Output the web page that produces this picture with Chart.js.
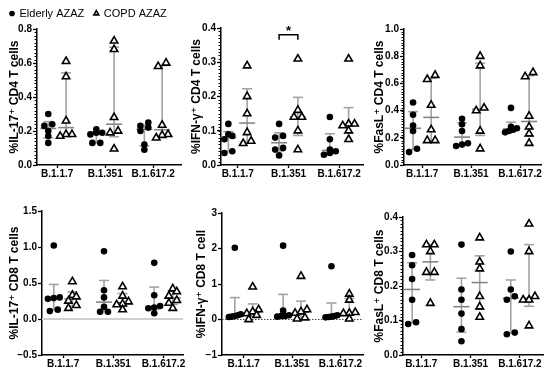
<!DOCTYPE html>
<html>
<head>
<meta charset="utf-8">
<script src="https://cdn.jsdelivr.net/npm/chart.js@4.4.1/dist/chart.umd.min.js"></script>
<style>
  html, body { margin: 0; padding: 0; background: #fff; }
  #fig { position: relative; width: 550px; height: 375px; overflow: hidden; }
  #fig canvas { position: absolute; }
</style>
</head>
<body>
<div id="fig">
  <canvas id="c0"></canvas><canvas id="c1"></canvas><canvas id="c2"></canvas>
  <canvas id="c3"></canvas><canvas id="c4"></canvas><canvas id="c5"></canvas>
</div>
<script>
// categories / groups
const variants = ['B.1.1.7', 'B.1.351', 'B.1.617.2'];
const groups = ['Elderly AZAZ', 'COPD AZAZ'];

// values, one row per variant (n = 6 donors)
const il17Cd4Elderly = [[0.30, 0.24, 0.23, 0.20, 0.17, 0.13], [0.21, 0.19, 0.19, 0.18, 0.13, 0.13], [0.25, 0.23, 0.22, 0.20, 0.12, 0.09]];
const il17Cd4Copd    = [[0.61, 0.52, 0.26, 0.18, 0.18, 0.17], [0.73, 0.68, 0.28, 0.20, 0.19, 0.095], [0.60, 0.58, 0.235, 0.18, 0.175, 0.16]];
const ifnCd4Elderly  = [[0.12, 0.09, 0.085, 0.075, 0.04, 0.035], [0.12, 0.085, 0.08, 0.05, 0.045, 0.028], [0.14, 0.075, 0.045, 0.04, 0.035, 0.03]];
const ifnCd4Copd     = [[0.29, 0.20, 0.15, 0.095, 0.07, 0.063], [0.31, 0.16, 0.14, 0.14, 0.10, 0.045], [0.31, 0.12, 0.12, 0.115, 0.10, 0.075]];
const faslCd4Elderly = [[0.46, 0.37, 0.29, 0.25, 0.12, 0.095], [0.34, 0.30, 0.25, 0.16, 0.15, 0.14], [0.42, 0.28, 0.27, 0.26, 0.25, 0.24]];
const faslCd4Copd    = [[0.66, 0.63, 0.44, 0.26, 0.18, 0.18], [0.80, 0.73, 0.42, 0.40, 0.25, 0.12], [0.68, 0.65, 0.36, 0.28, 0.23, 0.16]];
const il17Cd8Elderly = [[1.02, 0.30, 0.29, 0.28, 0.13, 0.11], [0.94, 0.40, 0.30, 0.17, 0.10, 0.10], [0.78, 0.33, 0.18, 0.16, 0.15, 0.08]];
const il17Cd8Copd    = [[0.52, 0.33, 0.31, 0.25, 0.19, 0.15], [0.45, 0.32, 0.24, 0.21, 0.20, 0.13], [0.42, 0.38, 0.32, 0.26, 0.22, 0.15]];
const ifnCd8Elderly  = [[2.02, 0.15, 0.12, 0.10, 0.08, 0.07], [2.08, 0.25, 0.12, 0.10, 0.10, 0.08], [1.50, 0.12, 0.10, 0.08, 0.07, 0.06]];
const ifnCd8Copd     = [[0.92, 0.28, 0.22, 0.17, 0.12, 0.0], [1.22, 0.28, 0.22, 0.18, 0.05, 0.02], [0.72, 0.55, 0.20, 0.18, 0.17, 0.02]];
const faslCd8Elderly = [[0.29, 0.26, 0.22, 0.16, 0.095, 0.09], [0.32, 0.19, 0.16, 0.12, 0.075, 0.04], [0.30, 0.19, 0.17, 0.16, 0.065, 0.06]];
const faslCd8Copd    = [[0.32, 0.32, 0.30, 0.24, 0.24, 0.15], [0.34, 0.27, 0.25, 0.17, 0.14, 0.11], [0.38, 0.30, 0.17, 0.16, 0.16, 0.085]];

// y tick labels
const il17Cd4Ticks = [0, 0.2, 0.4, 0.6, 0.8];
const ifnCd4Ticks  = [0, 0.1, 0.2, 0.3, 0.4];
const faslCd4Ticks = [0, 0.2, 0.4, 0.6, 0.8, 1.0];
const il17Cd8Ticks = [-0.5, 0, 0.5, 1.0, 1.5];
const ifnCd8Ticks  = [-1, 0, 1, 2, 3];
const faslCd8Ticks = [0, 0.1, 0.2, 0.3, 0.4];

// significance marks: panel index, variant (1-based), bracket height
const sigMarks = [{ panel: 1, variant: 2, level: 0.38, text: '*' }];

const panels = [
  { title: '%IL-17⁺ CD4 T cells', elderly: il17Cd4Elderly, copd: il17Cd4Copd, ticks: il17Cd4Ticks, digits: 1, minor: true },
  { title: '%IFN-γ⁺ CD4 T cells', elderly: ifnCd4Elderly, copd: ifnCd4Copd, ticks: ifnCd4Ticks, digits: 1, minor: true },
  { title: '%FasL⁺ CD4 T cells', elderly: faslCd4Elderly, copd: faslCd4Copd, ticks: faslCd4Ticks, digits: 1, minor: true },
  { title: '%IL-17⁺ CD8 T cells', elderly: il17Cd8Elderly, copd: il17Cd8Copd, ticks: il17Cd8Ticks, digits: 1, zero: 'solid' },
  { title: '%IFN-γ⁺ CD8 T cell', elderly: ifnCd8Elderly, copd: ifnCd8Copd, ticks: ifnCd8Ticks, digits: 0, zero: 'dotted' },
  { title: '%FasL⁺ CD8 T cells', elderly: faslCd8Elderly, copd: faslCd8Copd, ticks: faslCd8Ticks, digits: 1, minor: true },
];

// page geometry of each panel: canvas left, plot area [left, right, top, bottom], y title centre, x range
const layouts = [
  { left: 0,   area: [37, 183, 29, 165],  titleX: 15,  x: [0.58, 3.58] },
  { left: 186, area: [221, 365, 28, 165], titleX: 197, x: [0.67, 3.47] },
  { left: 368, area: [404, 543, 29, 165], titleX: 380, x: [0.63, 3.43] },
  { left: 0,   area: [42, 185, 211, 355], titleX: 15,  x: [0.58, 3.39] },
  { left: 190, area: [222, 365, 213, 355], titleX: 202, x: [0.55, 3.47] },
  { left: 368, area: [403, 545, 217, 355], titleX: 380, x: [0.63, 3.47] },
];

const FONT = "'Liberation Sans', Arial, 'DejaVu Sans', sans-serif";
const GROUP_SHIFT = [-0.185, 0.185];
const X_AXIS_H = 16;
const PAD_R = 4;
Chart.defaults.font.family = FONT;
Chart.defaults.color = '#000';

// Prism style percentile (position p*(n+1))
function quantile(sorted, p) {
  const n = sorted.length, pos = p * (n + 1);
  if (pos <= 1) return sorted[0];
  if (pos >= n) return sorted[n - 1];
  const lo = Math.floor(pos);
  return sorted[lo - 1] + (pos - lo) * (sorted[lo] - sorted[lo - 1]);
}

// spread points that share a value band side by side, like a dot plot
function spread(values, pxY, pxX) {
  const order = values.map((v, i) => i).sort((a, b) => values[a] - values[b]);
  const offs = new Array(values.length).fill(0);
  let row = [];
  const flush = () => {
    const k = row.length;
    const gap = k > 1 ? Math.min(8, 12 / (k - 1)) : 0;
    row.forEach((idx, j) => { offs[idx] = (j - (k - 1) / 2) * gap / pxX; });
    row = [];
  };
  order.forEach(i => {
    if (row.length && (values[i] - values[row[0]]) * pxY > 5) flush();
    row.push(i);
  });
  flush();
  return offs;
}

function fmt(v, digits) {
  return v.toFixed(digits).replace('-', '−');
}

function statsPlugin(p) {
  return {
    id: 'groupStats',
    beforeDatasetsDraw(chart) {
      const { ctx, chartArea, scales: { x, y } } = chart;
      ctx.save();
      if (p.zero) {
        const y0 = y.getPixelForValue(0);
        ctx.beginPath();
        if (p.zero === 'dotted') { ctx.setLineDash([1.5, 1.5]); ctx.strokeStyle = '#444'; ctx.lineWidth = 1.2; }
        else { ctx.strokeStyle = '#cfcfcf'; ctx.lineWidth = 2; }
        ctx.moveTo(chartArea.left, y0); ctx.lineTo(chartArea.right, y0); ctx.stroke();
        ctx.setLineDash([]);
      }
      const seg = (x1, y1, x2, y2) => { ctx.beginPath(); ctx.moveTo(x1, y1); ctx.lineTo(x2, y2); ctx.stroke(); };
      [p.elderly, p.copd].forEach((rows, g) => rows.forEach((vals, i) => {
        const s = [...vals].sort((a, b) => a - b);
        const cx = x.getPixelForValue(i + 1 + GROUP_SHIFT[g]);
        const [q1, med, q3] = [0.25, 0.5, 0.75].map(q => y.getPixelForValue(quantile(s, q)));
        ctx.strokeStyle = '#a3a3a3'; ctx.lineWidth = 1.6;
        seg(cx, q1, cx, q3); seg(cx - 5, q1, cx + 5, q1); seg(cx - 5, q3, cx + 5, q3);
        ctx.strokeStyle = '#858585';
        seg(cx - 8, med, cx + 8, med);
      }));
      ctx.restore();
    },
    afterDraw(chart) {
      const { ctx, chartArea, scales: { x, y } } = chart;
      ctx.save();
      if (p.minor) {
        const t = p.ticks, step = (t[1] - t[0]) / 10;
        ctx.strokeStyle = '#000'; ctx.lineWidth = 1;
        for (let v = t[0]; v <= t[t.length - 1] + 1e-9; v += step) {
          const py = Math.round(y.getPixelForValue(v)) + 0.5;
          ctx.beginPath(); ctx.moveTo(chartArea.left - 2.5, py); ctx.lineTo(chartArea.left, py); ctx.stroke();
        }
      }
      sigMarks.filter(m => m.panel === p.index).forEach(m => {
        const x1 = x.getPixelForValue(m.variant + GROUP_SHIFT[0]);
        const x2 = x.getPixelForValue(m.variant + GROUP_SHIFT[1]);
        const yb = y.getPixelForValue(m.level);
        ctx.strokeStyle = '#000'; ctx.lineWidth = 1.5;
        ctx.beginPath(); ctx.moveTo(x1, yb + 5); ctx.lineTo(x1, yb); ctx.lineTo(x2, yb); ctx.lineTo(x2, yb + 5); ctx.stroke();
        ctx.fillStyle = '#000'; ctx.font = 'bold 13px ' + FONT;
        ctx.textAlign = 'center'; ctx.textBaseline = 'middle';
        ctx.fillText(m.text, (x1 + x2) / 2, yb - 3);
      });
      ctx.restore();
    }
  };
}

panels.forEach((p, k) => {
  p.index = k;
  const L = layouts[k];
  const [aL, aR, aT, aB] = L.area;
  const t = p.ticks, yMin = t[0], yMax = t[t.length - 1];
  const top = k === 0 ? -2 : aT - 7;
  const canvas = document.getElementById('c' + k);
  canvas.width = aR + PAD_R - L.left;
  canvas.height = aB + X_AXIS_H - top;
  canvas.style.left = L.left + 'px';
  canvas.style.top = top + 'px';

  const pxY = (aB - aT) / (yMax - yMin);
  const pxX = (aR - aL) / (L.x[1] - L.x[0]);
  const points = rows => rows.flatMap((vals, i) => {
    const offs = spread(vals, pxY, pxX);
    return vals.map((v, j) => ({ x: i + 1 + offs[j], y: v }));
  });
  const elderlyPts = points(p.elderly).map(d => ({ x: d.x + GROUP_SHIFT[0], y: d.y }));
  const copdPts = points(p.copd).map(d => ({ x: d.x + GROUP_SHIFT[1], y: d.y }));

  new Chart(canvas, {
    type: 'scatter',
    data: {
      datasets: [
        { label: groups[0], data: elderlyPts, pointStyle: 'circle', pointRadius: 3.3, pointHoverRadius: 3.3,
          backgroundColor: '#000', borderColor: '#000', borderWidth: 0, clip: false },
        { label: groups[1], data: copdPts, pointStyle: 'triangle', pointRadius: 4.3, pointHoverRadius: 4.3,
          backgroundColor: '#fff', borderColor: '#000', borderWidth: 1.6, clip: false },
      ]
    },
    options: {
      responsive: false,
      devicePixelRatio: 1,
      animation: false,
      layout: { padding: { top: 0, right: PAD_R, bottom: 0, left: 0 } },
      plugins: {
        tooltip: { enabled: false },
        legend: {
          display: k === 0, position: 'top', align: 'start',
          labels: { usePointStyle: true, boxWidth: 4, boxHeight: 4, padding: 10, color: '#000', font: { size: 11 } }
        }
      },
      scales: {
        x: {
          type: 'linear', min: L.x[0], max: L.x[1],
          afterBuildTicks: s => { s.ticks = variants.map((v, i) => ({ value: i + 1 })); },
          afterFit: s => { s.height = X_AXIS_H; },
          ticks: { callback: v => variants[v - 1], font: { size: 10, weight: 'bold' }, padding: 0, autoSkip: false, maxRotation: 0, color: '#000' },
          grid: { drawOnChartArea: false, tickLength: 3, tickColor: '#000', tickWidth: 1.3 },
          border: { color: '#000', width: 1.5 }
        },
        y: {
          min: yMin, max: yMax,
          afterBuildTicks: s => { s.ticks = t.map(v => ({ value: v })); },
          afterFit: s => { s.width = aL - L.left; },
          ticks: { callback: v => fmt(v, p.digits), font: { size: 10, weight: 'bold' }, padding: 1, autoSkip: false, color: '#000' },
          grid: { drawOnChartArea: false, tickLength: 4, tickColor: '#000', tickWidth: 1.3 },
          border: { color: '#000', width: 1.5 },
          title: { display: true, text: p.title, color: '#000', font: { size: 12, weight: 'bold' },
                   padding: { top: L.titleX - L.left - 7.2, bottom: 0 } }
        }
      }
    },
    plugins: [statsPlugin(p)]
  });
});
</script>
</body>
</html>
